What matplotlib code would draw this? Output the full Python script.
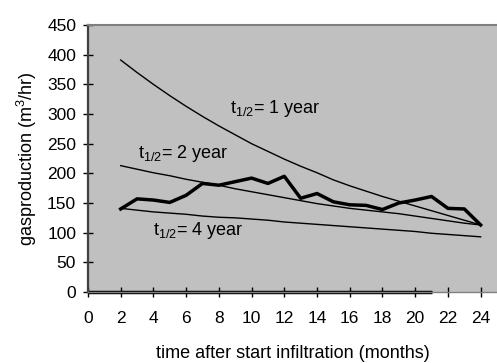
import numpy as np
import matplotlib.pyplot as plt

plt.rcParams['font.family'] = ['Liberation Sans', 'DejaVu Sans']
plt.rcParams['mathtext.default'] = 'regular'

# months after start infiltration
months = list(range(2, 25))

# modelled gas production for different half-lives (m3/hr)
half_life_1yr = [391, 370, 350, 331, 313, 296, 280, 265, 250, 237, 224, 212,
                 201, 189, 179, 170, 161, 153, 145, 137, 129, 121, 113]
half_life_2yr = [213, 207, 201, 196, 190, 185, 180, 174, 169, 164, 159, 154,
                 149, 145, 141, 138, 135, 132, 128, 124, 120, 116, 113]
half_life_4yr = [141, 138, 135, 133, 131, 128, 126, 125, 123, 121, 118, 116,
                 114, 112, 110, 108, 106, 104, 102, 99, 97, 95, 93]

# measured gas production
measured = [140, 157, 155, 151, 163, 183, 180, 186, 192, 183, 195, 158,
            166, 152, 147, 146, 139, 150, 155, 161, 141, 140, 113]

# zero series along the bottom
zero_months = list(range(0, 22))
zero_values = [0] * len(zero_months)

fig = plt.figure(figsize=(4.97, 3.63), dpi=100)
ax = fig.add_axes([0.177, 0.1956, 0.823, 0.7354])
ax.set_facecolor('#c0c0c0')

ax.plot(months, half_life_1yr, color='black', lw=1.0)
ax.plot(months, half_life_2yr, color='black', lw=1.0)
ax.plot(months, half_life_4yr, color='black', lw=1.0)
ax.plot(months, measured, color='black', lw=2.5, solid_joinstyle='round')
ax.plot(zero_months, zero_values, color='black', lw=2.5, clip_on=False,
        solid_capstyle='butt')

ax.text(8.66, 310, r't$_{1/2}$= 1 year', fontsize=13, va='center')
ax.text(3.05, 234, r't$_{1/2}$= 2 year', fontsize=13, va='center')
ax.text(4.0, 104, r't$_{1/2}$= 4 year', fontsize=13, va='center')

ax.set_xlim(0, 25)
ax.set_ylim(0, 450)
ax.set_xticks(range(0, 25, 2))
ax.set_yticks(range(0, 451, 50))
ax.tick_params(axis='both', direction='inout', length=7, width=1,
               labelsize=12.5, colors='black')
ax.tick_params(axis='x', pad=10)
ax.tick_params(axis='y', pad=5)

ax.spines['left'].set_color('#404040')
ax.spines['left'].set_linewidth(1.6)
ax.spines['top'].set_color('#808080')
ax.spines['top'].set_linewidth(1.5)
ax.spines['bottom'].set_color('#808080')
ax.spines['bottom'].set_linewidth(1.0)
ax.spines['right'].set_visible(False)

ax.set_xlabel('time after start infiltration (months)', fontsize=13, labelpad=14)
ax.set_ylabel('gasproduction (m$^3$/hr)', fontsize=13, labelpad=6)

fig.savefig('out.png', dpi=100)
